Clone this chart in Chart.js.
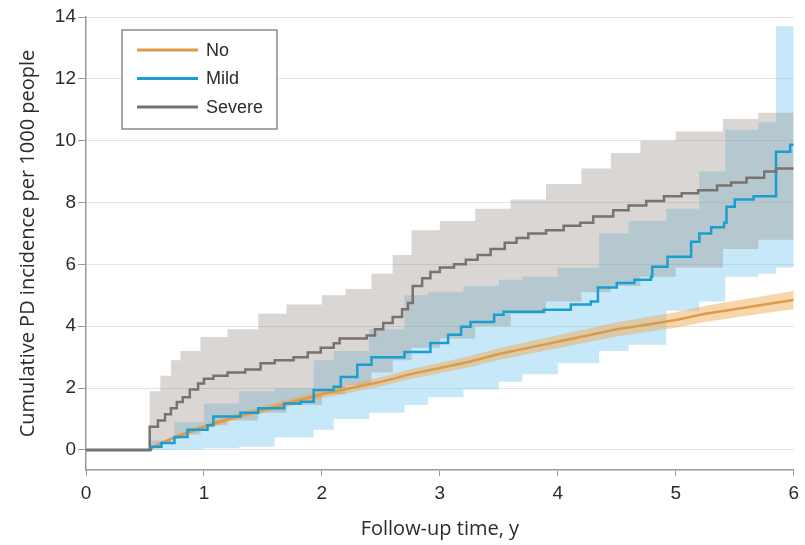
<!DOCTYPE html>
<html lang="en">
<head>
    <meta charset="UTF-8">
    <script src="https://cdn.jsdelivr.net/npm/chart.js@4.4.0/dist/chart.umd.min.js"></script>
    <title>Cumulative PD incidence</title>
    <style>
        html, body { margin: 0; padding: 0; background: #fff; }
        #wrap { width: 805px; height: 545px; }
    </style>
</head>
<body>
    <div id="wrap"><canvas id="myChart" width="805" height="545"></canvas></div>
    <script>
        // group names (legend)
        const groups = ['No', 'Mild', 'Severe'];

        // No: estimate and 95% band
        const noT = [0, 0.53, 0.6, 0.75, 1.0, 1.25, 1.5, 1.75, 2.0, 2.25, 2.5, 2.75, 3.0, 3.25, 3.5, 3.75, 4.0, 4.25, 4.5, 4.75, 5.0, 5.25, 5.5, 5.75, 6.0];
        const noEst = [0, 0, 0.15, 0.4, 0.75, 1.05, 1.3, 1.55, 1.8, 2.0, 2.2, 2.45, 2.65, 2.85, 3.1, 3.3, 3.5, 3.7, 3.9, 4.05, 4.2, 4.4, 4.55, 4.7, 4.85];
        const noLo = [0, 0, 0.1, 0.33, 0.66, 0.95, 1.19, 1.43, 1.67, 1.86, 2.05, 2.29, 2.48, 2.67, 2.91, 3.1, 3.29, 3.48, 3.67, 3.81, 3.95, 4.14, 4.28, 4.42, 4.55];
        const noHi = [0, 0, 0.2, 0.47, 0.84, 1.15, 1.41, 1.67, 1.93, 2.14, 2.35, 2.61, 2.82, 3.03, 3.29, 3.5, 3.71, 3.92, 4.13, 4.29, 4.45, 4.66, 4.82, 4.98, 5.15];

        // Mild: step estimate
        const mildT = [0, 0.55, 0.64, 0.75, 0.86, 1.03, 1.08, 1.31, 1.46, 1.68, 1.82, 1.93, 2.1, 2.16, 2.3, 2.42, 2.7, 2.92, 3.07, 3.18, 3.26, 3.46, 3.54, 3.88, 4.11, 4.28, 4.34, 4.5, 4.65, 4.79, 4.8, 4.93, 5.13, 5.2, 5.3, 5.41, 5.43, 5.5, 5.66, 5.85, 5.97, 6.0];
        const mildEst = [0, 0.1, 0.22, 0.42, 0.65, 0.8, 1.08, 1.2, 1.35, 1.5, 1.56, 1.94, 2.04, 2.36, 2.75, 3.0, 3.17, 3.46, 3.72, 3.98, 4.14, 4.37, 4.47, 4.53, 4.7, 4.8, 5.25, 5.4, 5.5, 5.6, 5.92, 6.25, 6.73, 7.0, 7.2, 7.35, 7.86, 8.1, 8.2, 9.64, 9.87, 9.87];
        // Mild: band
        const mildBandT = [0, 0.55, 0.75, 1.0, 1.3, 1.6, 1.93, 2.1, 2.4, 2.7, 2.9, 3.2, 3.5, 3.7, 4.0, 4.35, 4.6, 4.92, 5.2, 5.42, 5.7, 5.85, 6.0];
        const mildLo = [0, 0, 0.02, 0.05, 0.1, 0.4, 0.65, 1.0, 1.2, 1.45, 1.7, 1.95, 2.2, 2.45, 2.8, 3.2, 3.4, 4.5, 4.8, 5.6, 5.7, 5.9, 6.0];
        const mildHi = [0, 0.3, 0.9, 1.5, 1.9, 2.0, 2.9, 3.2, 3.9, 5.0, 5.1, 5.3, 5.5, 5.6, 5.9, 7.0, 7.4, 7.8, 9.0, 10.35, 10.6, 13.7, 13.7];

        // Severe: step estimate
        const sevT = [0, 0.54, 0.61, 0.67, 0.72, 0.77, 0.82, 0.88, 0.95, 1.0, 1.08, 1.2, 1.35, 1.48, 1.6, 1.76, 1.88, 1.99, 2.1, 2.15, 2.38, 2.45, 2.52, 2.6, 2.68, 2.73, 2.77, 2.85, 2.92, 3.0, 3.12, 3.22, 3.32, 3.43, 3.55, 3.65, 3.75, 3.9, 4.05, 4.19, 4.3, 4.47, 4.6, 4.75, 4.9, 5.05, 5.19, 5.35, 5.47, 5.6, 5.75, 5.85, 6.0];
        const sevEst = [0, 0.75, 0.95, 1.15, 1.35, 1.55, 1.7, 1.95, 2.15, 2.3, 2.4, 2.5, 2.6, 2.8, 2.9, 3.0, 3.15, 3.3, 3.45, 3.6, 3.7, 3.9, 4.1, 4.3, 4.55, 4.75, 5.3, 5.55, 5.75, 5.9, 6.0, 6.15, 6.3, 6.5, 6.7, 6.85, 7.0, 7.1, 7.25, 7.35, 7.55, 7.75, 7.9, 8.05, 8.2, 8.3, 8.4, 8.55, 8.65, 8.8, 9.0, 9.1, 9.1];
        // Severe: band
        const sevBandT = [0, 0.54, 0.63, 0.72, 0.8, 0.97, 1.2, 1.46, 1.7, 2.0, 2.2, 2.42, 2.6, 2.76, 3.0, 3.3, 3.6, 3.9, 4.2, 4.45, 4.7, 5.0, 5.4, 5.7, 6.0];
        const sevLo = [0, 0.05, 0.2, 0.35, 0.5, 0.8, 0.95, 1.2, 1.45, 1.8, 2.1, 2.5, 2.9, 3.3, 3.6, 4.0, 4.4, 4.8, 5.1, 5.3, 5.6, 5.9, 6.5, 6.8, 7.0];
        const sevHi = [0, 1.9, 2.4, 2.9, 3.2, 3.65, 3.9, 4.4, 4.7, 5.0, 5.2, 5.7, 6.3, 7.1, 7.4, 7.8, 8.1, 8.6, 9.1, 9.6, 10.0, 10.3, 10.7, 10.9, 11.2];

        const yTicks = [0, 2, 4, 6, 8, 10, 12, 14];
        const xTicks = [0, 1, 2, 3, 4, 5, 6];

        const colors = {
            No: '#DE9A48',
            Mild: '#1A9ED0',
            Severe: '#7A736D'
        };

        const FONT = "'Liberation Sans', 'DejaVu Sans', sans-serif";
        const TITLE_FONT = "'Open Sans', 'Liberation Sans', sans-serif";

        function pts(t, v) {
            return t.map((x, i) => ({ x: x, y: v[i] }));
        }

        function band(t, lo, hi, fillColor, stepped) {
            return [
                { data: pts(t, lo), borderWidth: 0, pointRadius: 0, fill: false, stepped: stepped, order: 10 },
                { data: pts(t, hi), borderWidth: 0, pointRadius: 0, fill: '-1', backgroundColor: fillColor, stepped: stepped, order: 10 }
            ];
        }

        // legend box inside chart
        const legendBox = {
            id: 'legendBox',
            afterDraw(chart) {
                const ctx = chart.ctx;
                ctx.save();
                ctx.strokeStyle = '#8a8a8a';
                ctx.lineWidth = 1.5;
                ctx.fillStyle = '#fff';
                ctx.fillRect(122, 30, 155, 99);
                ctx.strokeRect(122, 30, 155, 99);
                ctx.font = '18px ' + FONT;
                ctx.textBaseline = 'middle';
                groups.forEach((g, i) => {
                    const y = 50 + i * 28.5;
                    ctx.strokeStyle = colors[g];
                    ctx.lineWidth = 3;
                    ctx.beginPath();
                    ctx.moveTo(137, y);
                    ctx.lineTo(198, y);
                    ctx.stroke();
                    ctx.fillStyle = '#2b2b2b';
                    ctx.fillText(g, 206, y + 1);
                });
                ctx.restore();
            }
        };

        const datasets = [
            { label: 'Severe', data: pts(sevT, sevEst), borderColor: colors.Severe, borderWidth: 2.5, pointRadius: 0, stepped: 'before', fill: false, order: 0 },
            { label: 'Mild', data: pts(mildT, mildEst), borderColor: colors.Mild, borderWidth: 2.5, pointRadius: 0, stepped: 'before', fill: false, order: 1 },
            { label: 'No', data: pts(noT, noEst), borderColor: colors.No, borderWidth: 2.5, pointRadius: 0, fill: false, order: 2 },
            ...band(noT, noLo, noHi, 'rgba(240,165,70,0.45)', false),
            ...band(sevBandT, sevLo, sevHi, 'rgba(150,140,132,0.36)', 'before'),
            ...band(mildBandT, mildLo, mildHi, 'rgba(120,200,240,0.42)', 'before')
        ];

        const ctx = document.getElementById('myChart').getContext('2d');
        const myChart = new Chart(ctx, {
            type: 'line',
            data: { datasets: datasets },
            plugins: [legendBox],
            options: {
                responsive: false,
                animation: false,
                layout: { padding: { left: 12, top: 17, right: 10, bottom: 0 } },
                plugins: {
                    legend: { display: false },
                    tooltip: { enabled: false }
                },
                scales: {
                    x: {
                        type: 'linear',
                        min: 0,
                        max: 6,
                        afterBuildTicks: (s) => { s.ticks = xTicks.map(v => ({ value: v })); },
                        grid: { drawOnChartArea: false, drawTicks: true, tickLength: 6, tickColor: '#999' },
                        border: { color: '#999', width: 1.5 },
                        ticks: { color: '#2b2b2b', font: { family: FONT, size: 19 }, padding: 6, maxRotation: 0 },
                        title: { display: true, text: 'Follow-up time, y', color: '#2b2b2b', font: { family: TITLE_FONT, size: 20 }, padding: { top: 2 } },
                        afterFit: (s) => { s.height = 75; }
                    },
                    y: {
                        type: 'linear',
                        min: -0.65,
                        max: 14,
                        afterBuildTicks: (s) => { s.ticks = yTicks.map(v => ({ value: v })); },
                        grid: { color: '#e3e3e3', lineWidth: 1, drawTicks: true, tickLength: 8, tickColor: '#999' },
                        border: { color: '#999', width: 1.5 },
                        ticks: { color: '#2b2b2b', font: { family: FONT, size: 19 }, padding: 2 },
                        title: { display: true, text: 'Cumulative PD incidence per 1000 people', color: '#2b2b2b', font: { family: TITLE_FONT, size: 20 }, padding: { top: 4, bottom: 4 } },
                        afterFit: (s) => { s.width = 74; }
                    }
                }
            }
        });
    </script>
</body>
</html>
